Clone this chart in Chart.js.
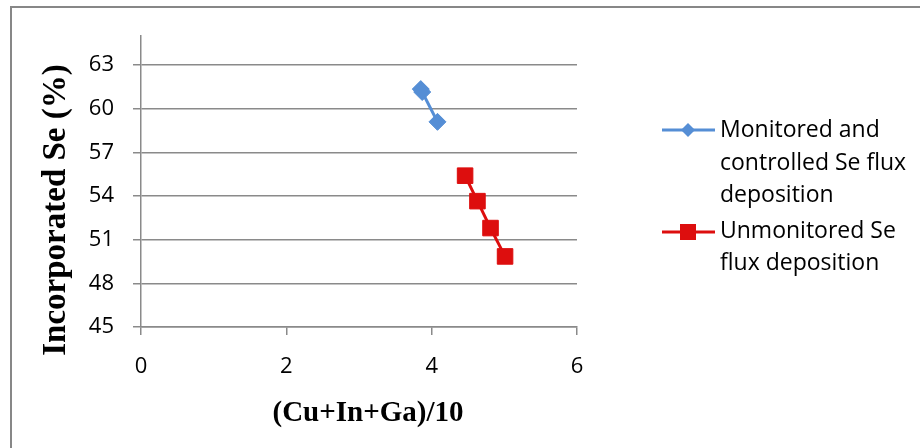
<!DOCTYPE html>
<html>
<head>
<meta charset="utf-8">
<script src="https://cdn.jsdelivr.net/npm/chart.js@4.4.1/dist/chart.umd.min.js"></script>
<style>
  body { margin: 0; background: #fff; }
  #wrap { position: relative; width: 920px; height: 448px; overflow: hidden; }
  #frame { position: absolute; left: 10px; top: 6px; width: 1000px; height: 1000px;
           border-top: 2px solid #878787; border-left: 2px solid #878787; }
  canvas { position: absolute; left: 0; top: 0; }
</style>
</head>
<body>
<div id="wrap">
  <div id="frame"></div>
  <canvas id="chart" width="920" height="448"></canvas>
</div>
<script>
// data
const monitoredX = [3.85, 3.87, 4.08];
const monitoredY = [61.35, 61.15, 59.1];
const unmonitoredX = [4.46, 4.63, 4.81, 5.01];
const unmonitoredY = [55.4, 53.65, 51.8, 49.85];
const yTicks = [45, 48, 51, 54, 57, 60, 63];
const xTicks = [0, 2, 4, 6];
const xTitle = '(Cu+In+Ga)/10';
const yTitle = 'Incorporated Se (%)';
const legendLabels = [
    ['Monitored and', 'controlled Se flux', 'deposition'],
    ['Unmonitored Se', 'flux deposition']
];

const blue = '#558ed5';
const red = '#dd0e0e';
const axisGray = '#8a8a8a';
const tickFont = { family: 'Open Sans', size: 22 };

const toPoints = (xs, ys) => xs.map((x, i) => ({ x: x, y: ys[i] }));

// axis titles + legend, placed like the original sheet
const extras = {
    id: 'extras',
    afterDraw(chart) {
        const ctx = chart.ctx;
        ctx.save();
        ctx.fillStyle = '#000';

        // x title
        ctx.font = 'bold 29px "Liberation Serif"';
        ctx.textAlign = 'center';
        ctx.textBaseline = 'alphabetic';
        ctx.fillText(xTitle, 368, 421);

        // y title
        ctx.save();
        ctx.translate(65, 210);
        ctx.rotate(-Math.PI / 2);
        ctx.font = 'bold 33px "Liberation Serif"';
        ctx.textAlign = 'center';
        ctx.fillText(yTitle, 0, 0);
        ctx.restore();

        // legend
        const rows = [
            { lineY: 130, baselines: [137, 169.5, 202] },
            { lineY: 232, baselines: [238, 270] }
        ];
        chart.data.datasets.forEach((ds, i) => {
            const r = rows[i];
            ctx.strokeStyle = ds.borderColor;
            ctx.lineWidth = 3;
            ctx.beginPath();
            ctx.moveTo(662, r.lineY);
            ctx.lineTo(715, r.lineY);
            ctx.stroke();
            ctx.fillStyle = ds.borderColor;
            ctx.beginPath();
            if (ds.pointStyle === 'rectRot') {
                const s = 7;
                ctx.moveTo(688, r.lineY - s);
                ctx.lineTo(688 + s, r.lineY);
                ctx.lineTo(688, r.lineY + s);
                ctx.lineTo(688 - s, r.lineY);
                ctx.closePath();
            } else {
                ctx.rect(688 - 8, r.lineY - 8, 16, 16);
            }
            ctx.fill();

            ctx.fillStyle = '#000';
            ctx.font = '23px "Open Sans"';
            ctx.textAlign = 'left';
            ctx.textBaseline = 'alphabetic';
            legendLabels[i].forEach((t, j) => ctx.fillText(t, 720, r.baselines[j]));
        });
        ctx.restore();
    }
};

new Chart(document.getElementById('chart'), {
    type: 'line',
    data: {
        datasets: [{
            label: legendLabels[0].join(' '),
            data: toPoints(monitoredX, monitoredY),
            borderColor: blue,
            backgroundColor: blue,
            borderWidth: 3,
            pointStyle: 'rectRot',
            pointRadius: 8.5,
            pointBorderWidth: 1,
            tension: 0
        }, {
            label: legendLabels[1].join(' '),
            data: toPoints(unmonitoredX, unmonitoredY),
            borderColor: red,
            backgroundColor: red,
            borderWidth: 3,
            pointStyle: 'rect',
            pointRadius: 11,
            pointBorderWidth: 1,
            tension: 0
        }]
    },
    options: {
        responsive: false,
        animation: false,
        devicePixelRatio: 1,
        layout: { padding: { top: 36, right: 343, left: 0, bottom: 0 } },
        plugins: { legend: { display: false }, tooltip: { enabled: false } },
        scales: {
            x: {
                type: 'linear',
                min: 0,
                max: 6,
                afterBuildTicks: (axis) => { axis.ticks = xTicks.map(v => ({ value: v })); },
                afterFit: (scale) => { scale.height = 121; },
                grid: { drawOnChartArea: false, drawTicks: true, tickLength: 8, color: axisGray, lineWidth: 1.5 },
                border: { color: axisGray, width: 1.5 },
                ticks: { font: tickFont, color: '#000', padding: 19, maxRotation: 0 }
            },
            y: {
                type: 'linear',
                min: 45,
                max: 65,
                afterBuildTicks: (axis) => { axis.ticks = yTicks.map(v => ({ value: v })); },
                afterFit: (scale) => { scale.width = 141; },
                grid: { color: axisGray, lineWidth: 1.5, tickLength: 8 },
                border: { color: axisGray, width: 1.5 },
                ticks: { font: tickFont, color: '#000', padding: 19 }
            }
        }
    },
    plugins: [extras]
});
</script>
</body>
</html>
